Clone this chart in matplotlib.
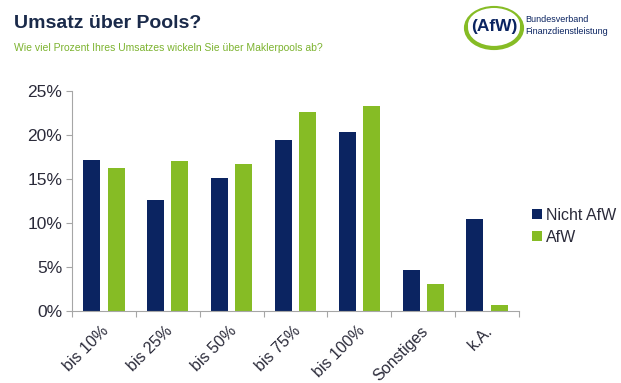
import matplotlib.pyplot as plt
import numpy as np
from matplotlib.patches import Ellipse, Arc
from matplotlib.ticker import FuncFormatter

plt.rcParams['font.family'] = ['Liberation Sans', 'DejaVu Sans']

categories = ['bis 10%', 'bis 25%', 'bis 50%', 'bis 75%', 'bis 100%', 'Sonstiges', 'k.A.']
nicht_afw = [17.2, 12.6, 15.1, 19.4, 20.3, 4.7, 10.4]
afw = [16.3, 17.0, 16.7, 22.6, 23.3, 3.1, 0.7]

navy = '#0b2461'
green = '#86bc25'
grey = '#a6a6a6'
txt = '#2b2b3a'

fig = plt.figure(figsize=(6.21, 3.83), dpi=100)
ax = fig.add_axes([72/621, 1 - 311/383, 447/621, 220/383])

x = np.arange(len(categories))
w = 0.265
ax.bar(x - 0.19, nicht_afw, w, color=navy, label='Nicht AfW')
ax.bar(x + 0.19, afw, w, color=green, label='AfW')

ax.set_xlim(-0.5, len(categories) - 0.5)
ax.set_ylim(0, 25)
ax.set_yticks(range(0, 26, 5))
ax.yaxis.set_major_formatter(FuncFormatter(lambda v, p: f'{v:.0f}%'))
ax.set_xticks(np.arange(-0.5, len(categories), 1.0))
ax.set_xticklabels([])
ax.tick_params(axis='x', length=4, color=grey, width=0.8)
ax.tick_params(axis='y', length=4, color=grey, width=0.8, labelsize=12.5, labelcolor=txt, pad=3)
for i, c in enumerate(categories):
    ax.text(i - 0.04, -1.4, c, rotation=45, ha='right', va='top', fontsize=11.5,
            color=txt, rotation_mode='anchor')

for s in ['top', 'right']:
    ax.spines[s].set_visible(False)
for s in ['left', 'bottom']:
    ax.spines[s].set_color(grey)
    ax.spines[s].set_linewidth(0.8)

ax.legend(loc='center left', bbox_to_anchor=(1.03, 0.385), frameon=False, fontsize=11.5,
          handlelength=0.6, handleheight=0.6, handletextpad=0.25, labelspacing=0.45,
          labelcolor=txt, borderaxespad=0, borderpad=0)

fig.text(14/621, 1 - 23/383, 'Umsatz über Pools?', fontsize=14, fontweight='bold',
         color='#1a2a4a', va='center')
fig.text(14/621, 1 - 48/383, 'Wie viel Prozent Ihres Umsatzes wickeln Sie über Maklerpools ab?',
         fontsize=7.5, color='#7cb32f', va='center')

# logo
lax = fig.add_axes([0, 0, 1, 1], zorder=-1)
lax.set_xlim(0, 621)
lax.set_ylim(383, 0)
lax.axis('off')
lax.add_patch(Ellipse((494, 28), 56, 40, fill=False, ec=green, lw=3))
lax.add_patch(Ellipse((494, 25), 52, 34, fill=True, fc='white', ec='none'))
lax.text(494, 26, '(AfW)', fontsize=12.5, fontweight='bold', color=navy, ha='center', va='center')
lax.text(525, 20, 'Bundesverband', fontsize=6.5, color=navy, va='center')
lax.text(525, 31, 'Finanzdienstleistung', fontsize=6.5, color=navy, va='center')
lax.add_patch(Arc((-20, -30), 80, 60, theta1=270, theta2=360, ec=green, lw=4))
lax.add_patch(Arc((640, -30), 80, 60, theta1=180, theta2=270, ec=green, lw=4))

fig.savefig('out.png', dpi=100)
